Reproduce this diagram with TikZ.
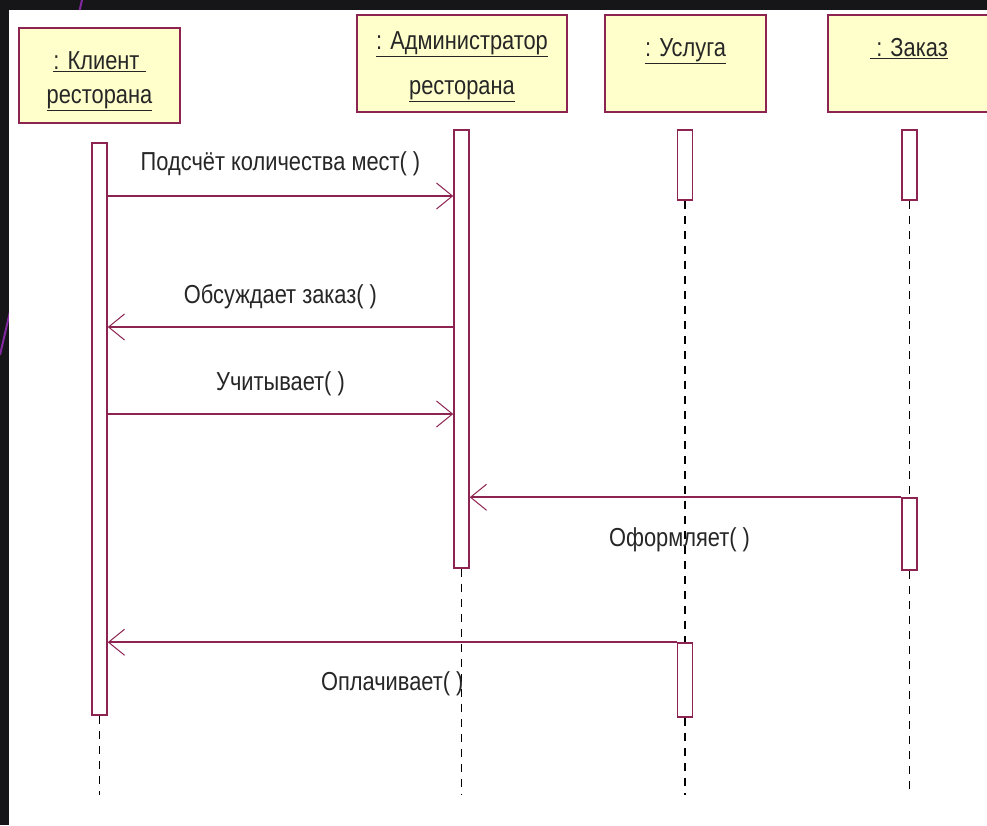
\documentclass[tikz,border=0pt]{standalone}
\usepackage{fontspec}
\setmainfont{Liberation Sans}[FakeStretch=0.84]
\usetikzlibrary{arrows.meta}
\definecolor{umlline}{RGB}{140,35,80}
\definecolor{umlfill}{RGB}{255,255,204}
\definecolor{backdark}{RGB}{22,22,24}
\definecolor{slide}{RGB}{130,40,160}

\begin{document}
\begin{tikzpicture}[x=1pt,y=-1pt,
  obj/.style={draw=umlline,fill=umlfill,line width=1.5pt,align=center,inner sep=0pt,
    font=\fontsize{26}{34}\selectfont,text=black!85},
  bar/.style={draw=umlline,fill=white,line width=1.5pt,minimum width=15pt,inner sep=0pt},
  life/.style={black,line width=1.5pt,dash pattern=on 8pt off 7pt},
  msg/.style={umlline,line width=1.8pt,-{Straight Barb[length=16pt,width=26pt,line width=1pt]}},
  lbl/.style={font=\fontsize{26}{30}\selectfont,text=black!85,anchor=base}]
\useasboundingbox (0,0) rectangle (987,825);
% slide background
\fill[backdark] (0,0) rectangle (987,825);
\draw[slide,line width=2pt] (82,0) -- (0,355);
\fill[white] (9,10) rectangle (987,825);

% objects
\node[obj,minimum width=161pt,minimum height=95pt] (client) at (99.5,75.5)
  {\rule{0pt}{30pt}\underline{: Клиент\ }\\\underline{ресторана}};
\node[obj,minimum width=210pt,minimum height=97pt] (admin) at (462,63.5)
  {\rule{0pt}{24pt}\underline{: Администратор}\\[11pt]\underline{ресторана}};
\node[obj,minimum width=161pt,minimum height=97pt] (service) at (685.5,63.5)
  {\rule{0pt}{31pt}\underline{: Услуга}\\[11pt]~};
\node[obj,minimum width=162pt,minimum height=97pt] (order) at (909,63.5)
  {\rule{0pt}{31pt}\underline{\ : Заказ}\\[11pt]~};

% activations
\node[bar,minimum height=572pt] (cbar) at (99.5,429) {};
\node[bar,minimum height=438pt] (abar) at (461.5,349) {};
\node[bar,minimum height=70pt] (sbar1) at (685,165) {};
\node[bar,minimum height=74pt] (sbar2) at (685,680) {};
\node[bar,minimum height=70pt] (obar1) at (909.5,165) {};
\node[bar,minimum height=72pt] (obar2) at (909.5,534) {};

% lifelines
\coordinate (cend) at (99.5,795);
\coordinate (aend) at (461.5,795);
\coordinate (send) at (685,795);
\coordinate (oend) at (909.5,795);
\draw[life] (cbar.south) -- (cend);
\draw[life] (abar.south) -- (aend);
\draw[life] (sbar1.south) -- (sbar2.north);
\draw[life] (sbar2.south) -- (send);
\draw[life] (obar1.south) -- (obar2.north);
\draw[life] (obar2.south) -- (oend);

% messages
\coordinate (m1) at (0,196);
\coordinate (m2) at (0,327);
\coordinate (m3) at (0,414);
\draw[msg] (cbar.east |- m1) -- node[lbl,yshift=26pt] {Подсчёт количества мест( )} (abar.west |- m1);
\draw[msg] (abar.west |- m2) -- node[lbl,yshift=24pt] {Обсуждает заказ( )} (cbar.east |- m2);
\draw[msg] (cbar.east |- m3) -- node[lbl,yshift=24pt] {Учитывает( )} (abar.west |- m3);
\draw[msg] (obar2.north west) -- node[lbl,yshift=-49pt,xshift=-6pt] {Оформляет( )} (abar.east |- obar2.north);
\draw[msg] (sbar2.north west) -- node[lbl,yshift=-48pt] {Оплачивает( )} (cbar.east |- sbar2.north);
\end{tikzpicture}
\end{document}
